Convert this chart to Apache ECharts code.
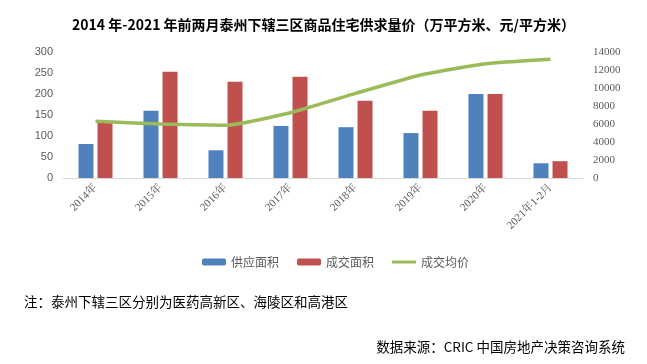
<!DOCTYPE html>
<html><head><meta charset="utf-8">
<script src="https://cdn.jsdelivr.net/npm/echarts@6/dist/echarts.min.js"></script>
<style>html,body{margin:0;padding:0;background:#fff}#c{width:647px;height:364px}</style>
</head><body><div id="c"></div>
<script>
const categories = ['2014年','2015年','2016年','2017年','2018年','2019年','2020年','2021年1-2月'];
const supplyArea = [81, 160, 66, 124, 121, 107, 200, 35];
const dealArea = [133, 253, 229, 241, 184, 160, 200, 40];
const avgPrice = [6300, 6000, 5850, 7250, 9400, 11450, 12700, 13200];
const leftTicks = {min:0, max:300, interval:50};
const rightTicks = {min:0, max:14000, interval:2000};

const chart = echarts.init(document.getElementById('c'));
const cjk = '"Microsoft YaHei","Noto Sans CJK SC",sans-serif';
chart.setOption({
  animation:false,
  title:{text:'2014 年-2021 年前两月泰州下辖三区商品住宅供求量价（万平方米、元/平方米）',
    left:'center', top:13, textStyle:{fontSize:14, fontWeight:'bold', color:'#000', fontFamily:cjk}},
  grid:{left:63, right:64, top:52, bottom:186},
  legend:{top:251, left:197, itemGap:18, itemWidth:24, itemHeight:7,
    textStyle:{fontSize:12, color:'#595959', fontFamily:cjk},
    data:[{name:'供应面积'},{name:'成交面积'},{name:'成交均价', icon:'path://M0,0L24,0L24,3L0,3Z', itemStyle:{color:'#9BBB59', borderWidth:0}}]},
  graphic:[
    {type:'text', left:24, top:295, style:{text:'注：泰州下辖三区分别为医药高新区、海陵区和高港区', fill:'#000', font:'13.5px '+cjk}},
    {type:'text', right:22, top:340, style:{text:'数据来源：CRIC 中国房地产决策咨询系统', fill:'#000', font:'13.5px '+cjk}}
  ],
  xAxis:{type:'category', data:categories,
    axisLine:{lineStyle:{color:'#D9D9D9'}}, axisTick:{show:false},
    axisLabel:{rotate:45, fontSize:11, color:'#595959', fontFamily:'"Liberation Serif","Noto Serif CJK SC","Noto Sans CJK SC",serif', interval:0, margin:8}},
  yAxis:[
    {type:'value', min:leftTicks.min, max:leftTicks.max, interval:leftTicks.interval,
     splitLine:{show:false}, axisLine:{show:false}, axisTick:{show:false},
     axisLabel:{fontSize:11, color:'#595959', margin:10, fontFamily:'Arial,"Liberation Sans",sans-serif'}},
    {type:'value', min:rightTicks.min, max:rightTicks.max, interval:rightTicks.interval,
     splitLine:{show:false}, axisLine:{show:false}, axisTick:{show:false},
     axisLabel:{fontSize:11, color:'#595959', margin:10, fontFamily:'"Liberation Serif",serif', formatter:function(v){return String(v);}}}
  ],
  series:[
    {name:'供应面积', type:'bar', data:supplyArea, barWidth:15, barGap:'27%', itemStyle:{color:'#4F81BD'}},
    {name:'成交面积', type:'bar', data:dealArea, barWidth:15, itemStyle:{color:'#C0504D'}},
    {name:'成交均价', type:'line', yAxisIndex:1, data:avgPrice, symbol:'none', symbolKeepAspect:true, smooth:0.15,
     lineStyle:{color:'#9BBB59', width:3.5}, itemStyle:{color:'#9BBB59'}}
  ]
});
</script></body></html>
